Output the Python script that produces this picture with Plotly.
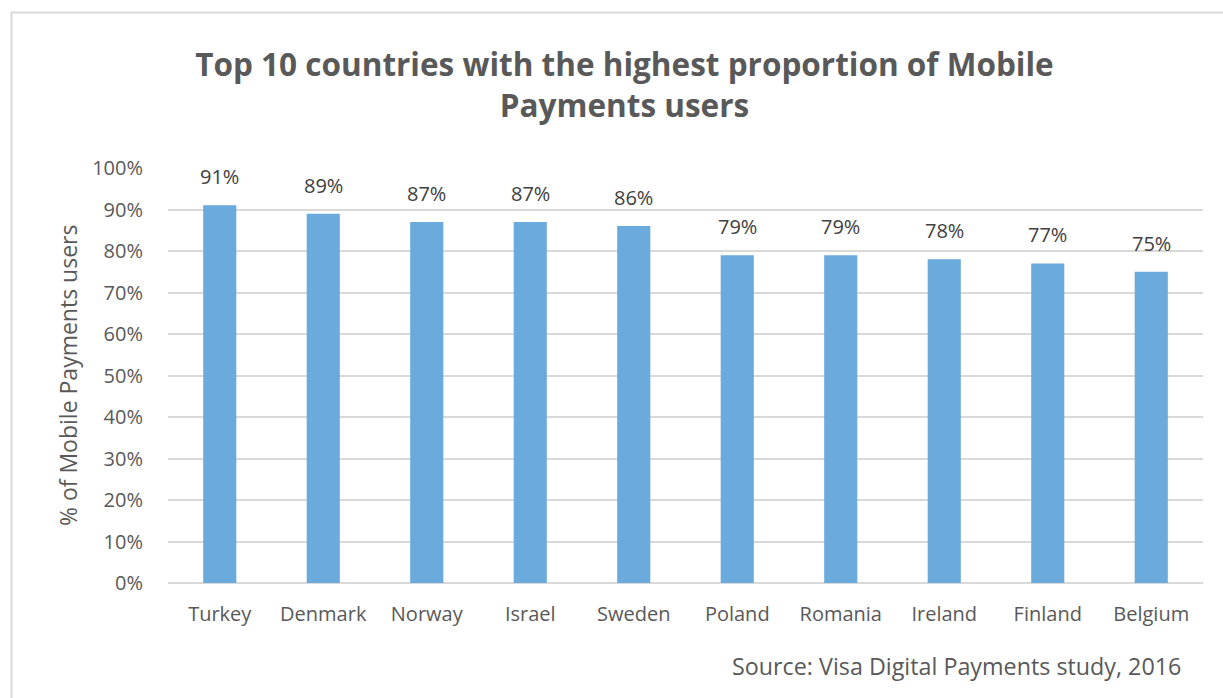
import plotly.graph_objects as go

countries = ["Turkey", "Denmark", "Norway", "Israel", "Sweden", "Poland", "Romania", "Ireland", "Finland", "Belgium"]
values = [91, 89, 87, 87, 86, 79, 79, 78, 77, 75]
y_ticks = [0, 10, 20, 30, 40, 50, 60, 70, 80, 90, 100]
y_tick_labels = [f"{v}%" for v in y_ticks]
title_text = "Top 10 countries with the highest proportion of Mobile<br>Payments users"
y_title = "% of Mobile Payments users"
source_text = "Source: Visa Digital Payments study, 2016"

FONT = "Open Sans"
GRAY = "#595959"

fig = go.Figure()
fig.add_trace(go.Bar(
    x=countries,
    y=values,
    marker=dict(color="#6aaadc", line=dict(width=0)),
    width=0.32,
    hoverinfo="x+y",
))

annotations = [
    dict(x=c, y=v, xref="x", yref="y", text=f"{v}%", showarrow=False,
         xanchor="center", yanchor="bottom", yshift=13,
         font=dict(family=FONT, size=20, color="#404040"))
    for c, v in zip(countries, values)
]
annotations.append(dict(text=y_title, xref="paper", yref="paper", x=-0.0966, y=0.501,
                        xanchor="center", yanchor="middle", textangle=-90, showarrow=False,
                        font=dict(family=FONT, size=23, color=GRAY)))
annotations.append(dict(text=source_text, xref="paper", yref="paper", x=0.9807, y=-0.2,
                        xanchor="right", yanchor="middle", showarrow=False,
                        font=dict(family=FONT, size=23.3, color=GRAY)))

fig.update_layout(
    width=1223, height=698,
    paper_bgcolor="white", plot_bgcolor="white",
    margin=dict(l=168, r=20, t=168, b=115, autoexpand=False),
    showlegend=False,
    title=dict(text=title_text, x=0.5106, xanchor="center", y=1 - 76 / 698, yanchor="middle",
               xref="container", yref="container",
               font=dict(family=FONT, size=31.5, color=GRAY, weight="bold")),
    font=dict(family=FONT, color=GRAY),
    shapes=[dict(type="rect", xref="paper", yref="paper", x0=-0.1512, x1=1.1, y0=-0.3, y1=1.3747,
                 line=dict(color="#d9d9d9", width=2), fillcolor="rgba(0,0,0,0)", layer="below")],
    annotations=annotations,
)
fig.update_xaxes(showgrid=False, showline=False, ticks="", automargin=False,
                 tickfont=dict(family=FONT, size=20, color=GRAY), ticklabelstandoff=17)
fig.update_yaxes(range=[0, 100], tickvals=y_ticks, ticktext=y_tick_labels, showgrid=True, automargin=False,
                 gridcolor="#d9d9d9", gridwidth=1.5, zeroline=True, zerolinecolor="#d9d9d9", zerolinewidth=1.5,
                 tickfont=dict(family=FONT, size=20, color=GRAY), ticklabelstandoff=24)

fig.write_html("out.html", config={"displayModeBar": False},
               post_script="document.body.style.margin='0';document.body.style.overflow='hidden';")
